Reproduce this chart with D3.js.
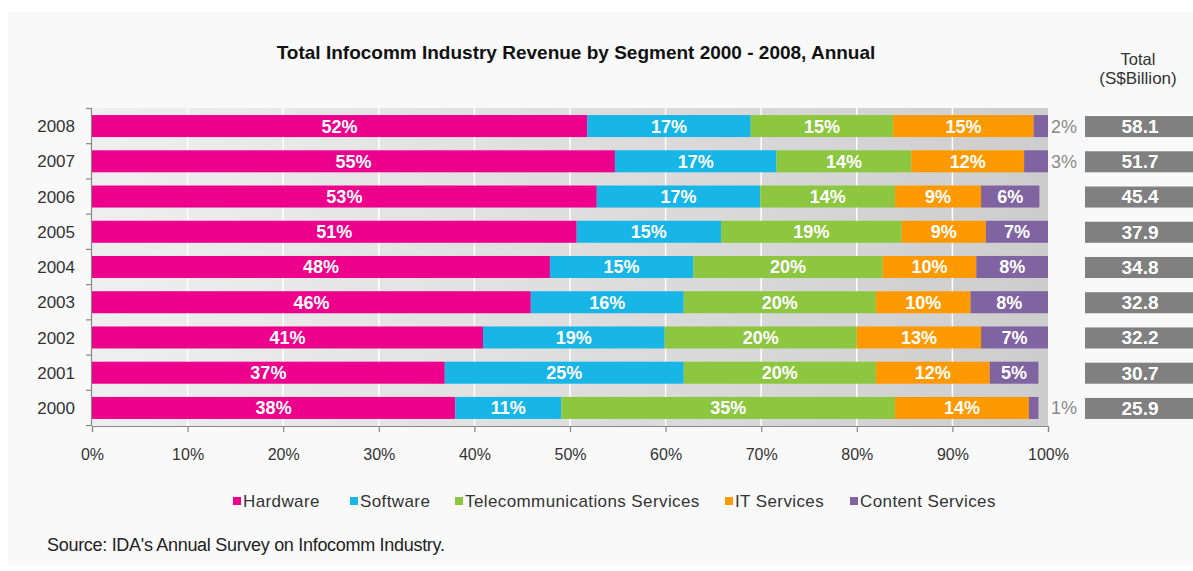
<!DOCTYPE html>
<html><head><meta charset="utf-8">
<script src="https://cdn.jsdelivr.net/npm/d3@7"></script>
<style>
html,body{margin:0;padding:0;background:#fff;}
svg{display:block;font-family:"Liberation Sans",Arial,sans-serif;}
</style></head>
<body><svg id="c" width="1193" height="571"></svg>
<script>
const years = ["2008","2007","2006","2005","2004","2003","2002","2001","2000"];
const segments = ["Hardware","Software","Telecommunications Services","IT Services","Content Services"];
const colors = ["#ec008c","#17b6e7","#8dc63f","#ff9900","#8064a2"];
const hardware = [51.8,54.7,52.8,50.7,47.9,45.9,40.9,36.9,38.0];
const software = [17.1,16.9,17.1,15.1,15.0,16.0,19.0,25.0,11.1];
const telecom  = [14.9,14.1,14.1,18.9,19.8,20.1,20.1,20.1,34.9];
const itServices = [14.7,11.8,9.0,8.8,9.8,9.9,13.0,11.9,14.0];
const content  = [1.5,2.5,6.1,6.5,7.5,8.1,7.0,5.1,1.0];
const totals = ["58.1","51.7","45.4","37.9","34.8","32.8","32.2","30.7","25.9"];
const xTicks = [0,10,20,30,40,50,60,70,80,90,100];

const series = [hardware, software, telecom, itServices, content];
const svg = d3.select("#c");

// panel
svg.append("rect").attr("x",8).attr("y",12).attr("width",1185).attr("height",553).attr("fill","#f9f9f9");

const x = d3.scaleLinear().domain([0,100]).range([92,1048]);
const y = d3.scaleBand().domain(years).range([108,426]).paddingInner(0.375).paddingOuter(0.2);

const defs = svg.append("defs");
const g = defs.append("linearGradient").attr("id","bg").attr("x1","0").attr("x2","1").attr("y1","0").attr("y2","0");
g.append("stop").attr("offset","0").attr("stop-color","#efefef");
g.append("stop").attr("offset","1").attr("stop-color","#cdcdcd");

svg.append("rect").attr("x",x(0)).attr("y",108).attr("width",x(100)-x(0)).attr("height",318).attr("fill","url(#bg)");

// gridlines
svg.append("g").selectAll("line").data(xTicks.slice(1,-1)).join("line")
  .attr("x1",d=>x(d)).attr("x2",d=>x(d)).attr("y1",108).attr("y2",426)
  .attr("stroke","#fff").attr("stroke-width",1.5);

// stacked data
const rows = years.map((yr,i)=>{
  const o = {year:yr};
  segments.forEach((s,j)=>o[s]=series[j][i]);
  return o;
});
const stack = d3.stack().keys(segments)(rows);

const layers = svg.append("g").selectAll("g").data(stack).join("g")
  .attr("fill",(d,i)=>colors[i]);
layers.selectAll("rect").data(d=>d).join("rect")
  .attr("x",d=>x(d[0])).attr("width",d=>x(d[1])-x(d[0]))
  .attr("y",d=>y(d.data.year)).attr("height",y.bandwidth());

// labels
const lab = svg.append("g");
stack.forEach((layer,j)=>{
  layer.forEach(d=>{
    const v = d[1]-d[0];
    const txt = Math.round(v)+"%";
    const cy = y(d.data.year)+y.bandwidth()/2;
    if (x(d[1])-x(d[0]) > 30) {
      lab.append("text").attr("x",(x(d[0])+x(d[1]))/2).attr("y",cy).attr("dy","0.36em")
        .attr("text-anchor","middle").attr("fill","#fff").attr("font-weight","bold")
        .attr("font-size",18).text(txt);
    } else {
      lab.append("text").attr("x",Math.max(x(d[1]),x(100))+3).attr("y",cy).attr("dy","0.36em")
        .attr("text-anchor","start").attr("fill","#8a8a8a")
        .attr("font-size",18).text(txt);
    }
  });
});

// left axis
const axL = svg.append("g").attr("stroke","#888").attr("stroke-width",1.2);
axL.append("line").attr("x1",x(0)-0.5).attr("x2",x(0)-0.5).attr("y1",108).attr("y2",426);
const step = y.step();
const bounds = years.map(yr=>y(yr)-step*y.paddingInner()/2);
bounds.push(y(years[years.length-1])+y.bandwidth()+step*y.paddingInner()/2);
axL.selectAll("line.t").data(bounds).join("line").attr("class","t")
  .attr("x1",x(0)-6).attr("x2",x(0)).attr("y1",d=>d).attr("y2",d=>d);

svg.append("g").selectAll("text").data(years).join("text")
  .attr("x",75).attr("y",d=>y(d)+y.bandwidth()/2).attr("dy","0.36em")
  .attr("text-anchor","end").attr("fill","#333").attr("font-size",17).text(d=>d);

// bottom axis
const axB = svg.append("g").attr("transform","translate(0,426)")
  .call(d3.axisBottom(x).tickValues(xTicks).tickFormat(d=>d+"%").tickSize(6).tickPadding(17));
axB.select(".domain").attr("stroke","#888").attr("stroke-width",1.2);
axB.selectAll(".tick line").attr("stroke","#888").attr("stroke-width",1.2);
axB.selectAll(".tick text").attr("fill","#333").attr("font-size",16).attr("font-family","Liberation Sans, Arial, sans-serif");

// totals
const tg = svg.append("g");
tg.selectAll("rect").data(totals).join("rect")
  .attr("x",1085).attr("width",120).attr("y",(d,i)=>y(years[i])+1).attr("height",y.bandwidth()-1)
  .attr("fill","#808080");
tg.selectAll("text").data(totals).join("text")
  .attr("x",1140).attr("y",(d,i)=>y(years[i])+y.bandwidth()/2).attr("dy","0.36em")
  .attr("text-anchor","middle").attr("fill","#fff").attr("font-weight","bold").attr("font-size",19).text(d=>d);
svg.append("text").attr("x",1138).attr("y",65).attr("text-anchor","middle").attr("fill","#333").attr("font-size",16.5).text("Total");
svg.append("text").attr("x",1138).attr("y",84).attr("text-anchor","middle").attr("fill","#333").attr("font-size",17).text("(S$Billion)");

// title
svg.append("text").attr("x",576).attr("y",59).attr("text-anchor","middle").attr("fill","#111")
  .attr("font-weight","bold").attr("font-size",19).text("Total Infocomm Industry Revenue by Segment 2000 - 2008, Annual");

// legend
const legX = [233,350,455,725,850];
const lg = svg.append("g").selectAll("g").data(segments).join("g")
  .attr("transform",(d,i)=>`translate(${legX[i]},501)`);
lg.append("rect").attr("x",0).attr("y",-4).attr("width",8).attr("height",8).attr("fill",(d,i)=>colors[i]);
lg.append("text").attr("x",10).attr("y",0).attr("dy","0.36em").attr("fill","#333").attr("font-size",17)
  .attr("letter-spacing","0.4px").text(d=>d);

// source
svg.append("text").attr("x",47).attr("y",551).attr("fill","#222").attr("font-size",18)
  .attr("letter-spacing","-0.3px").text("Source: IDA's Annual Survey on Infocomm Industry.");
</script></body></html>
